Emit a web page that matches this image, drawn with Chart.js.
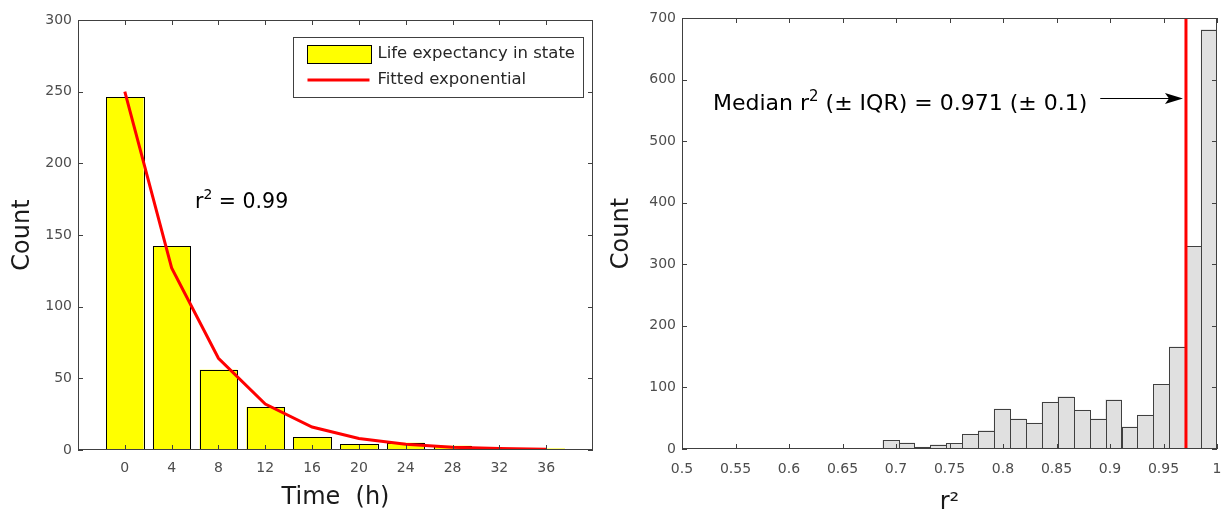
<!DOCTYPE html>
<html>
<head>
<meta charset="utf-8">
<script src="https://cdn.jsdelivr.net/npm/chart.js@4.4.1/dist/chart.umd.min.js"></script>
<style>
  body { margin: 0; background: #fff; }
  #leftBox { position: absolute; left: 0; top: 0; width: 600px; height: 515px; }
  #rightBox { position: absolute; left: 600px; top: 0; width: 623px; height: 515px; }
</style>
</head>
<body>
<div id="leftBox"><canvas id="lifeChart"></canvas></div>
<div id="rightBox"><canvas id="r2Chart"></canvas></div>
<script>
'use strict'

// left panel: life expectancy in state
const hours = [0, 4, 8, 12, 16, 20, 24, 28, 32, 36];
const lifeCounts = [246, 142, 56, 30, 9, 4, 5, 3, 1, 1];
const fitCounts = [250, 127, 64, 32, 16, 8, 4, 2, 1, 0.5];
const countTicksLeft = [0, 50, 100, 150, 200, 250, 300];

// right panel: histogram of r^2
const binCenters = [0.6354, 0.6503, 0.6652, 0.6801, 0.695, 0.7098, 0.7247, 0.7396, 0.7545,
  0.7694, 0.7842, 0.7991, 0.814, 0.8289, 0.8438, 0.8586, 0.8735, 0.8884, 0.9033, 0.9182,
  0.933, 0.9479, 0.9628, 0.9777, 0.9926];
const binCounts = [1, 1, 1, 1, 14, 10, 3, 7, 9, 24, 30, 65, 49, 42, 76, 85, 63, 49, 80, 36,
  55, 105, 166, 329, 681];
const r2Ticks = [0.5, 0.55, 0.6, 0.65, 0.7, 0.75, 0.8, 0.85, 0.9, 0.95, 1];
const countTicksRight = [0, 100, 200, 300, 400, 500, 600, 700];
const medianR2 = 0.971;

const FONT = '"DejaVu Sans", sans-serif';
const tickColor = '#4d4d4d';
const titleColor = '#1a1a1a';
const axisColor = '#404040';

Chart.defaults.font.family = FONT;
Chart.defaults.animation = false;

//box around the axes + matlab style inner ticks
const frameTicks = {
  id: 'frameTicks',
  afterDraw(chart) {
    const {ctx, chartArea: a, scales: {x, y}} = chart;
    const len = 5;
    ctx.save();
    ctx.strokeStyle = axisColor;
    ctx.lineWidth = 1;
    ctx.beginPath();
    x.ticks.forEach(t => {
      const px = Math.round(x.getPixelForValue(t.value)) + 0.5;
      ctx.moveTo(px, a.bottom); ctx.lineTo(px, a.bottom - len);
      ctx.moveTo(px, a.top); ctx.lineTo(px, a.top + len);
    });
    y.ticks.forEach(t => {
      const py = Math.round(y.getPixelForValue(t.value)) + 0.5;
      ctx.moveTo(a.left, py); ctx.lineTo(a.left + len, py);
      ctx.moveTo(a.right, py); ctx.lineTo(a.right - len, py);
    });
    ctx.stroke();
    ctx.strokeRect(Math.round(a.left) + 0.5, Math.round(a.top) + 0.5,
      Math.round(a.width) - 1, Math.round(a.height) - 1);
    ctx.restore();
  }
};

//single pixel edges on bars (adjacent bins share one line)
const barEdges = {
  id: 'barEdges',
  afterDatasetDraw(chart, args, opts) {
    if (args.meta.type !== 'bar') return;
    const ctx = chart.ctx;
    const a = chart.chartArea;
    ctx.save();
    ctx.beginPath();
    ctx.rect(a.left, a.top, a.width, a.height);
    ctx.clip();
    ctx.strokeStyle = opts.color || '#000';
    ctx.lineWidth = 1;
    args.meta.data.forEach(bar => {
      const p = bar.getProps(['x', 'y', 'base', 'width'], true);
      const l = Math.round(p.x - p.width / 2) + 0.5;
      const r = Math.round(p.x + p.width / 2) + 0.5;
      const top = Math.round(p.y) + 0.5;
      const base = Math.round(p.base) + 0.5;
      ctx.strokeRect(l, top, r - l, base - top);
    });
    ctx.restore();
  }
};

function drawSupText(ctx, parts, x, y, size) {
  let cx = x;
  parts.forEach(([txt, sup]) => {
    ctx.font = (sup ? size * 0.68 : size) + 'px ' + FONT;
    ctx.fillText(txt, cx, sup ? y - size * 0.42 : y);
    cx += ctx.measureText(txt).width;
  });
  return cx;
}

//legend box in the top right corner
const boxLegend = {
  id: 'boxLegend',
  afterDraw(chart) {
    const {ctx, chartArea: a} = chart;
    const ds = chart.data.datasets;
    ctx.save();
    ctx.font = '16.5px ' + FONT;
    const textW = Math.max(...ds.map(d => ctx.measureText(d.label).width));
    const w = 84 + textW + 8, h = 60;
    const left = a.right - 10 - w, top = a.top + 17;
    ctx.fillStyle = '#fff';
    ctx.fillRect(left, top, w, h);
    ctx.strokeStyle = axisColor;
    ctx.lineWidth = 1;
    ctx.strokeRect(Math.round(left) + 0.5, Math.round(top) + 0.5, Math.round(w), Math.round(h));
    // bar swatch
    ctx.fillStyle = ds[0].backgroundColor;
    ctx.fillRect(left + 14, top + 8, 64, 18);
    ctx.strokeStyle = '#000';
    ctx.strokeRect(Math.round(left + 14) + 0.5, Math.round(top + 8) + 0.5, 64, 18);
    // line swatch
    ctx.strokeStyle = ds[1].borderColor;
    ctx.lineWidth = 3;
    ctx.beginPath();
    ctx.moveTo(left + 14, top + 43);
    ctx.lineTo(left + 76, top + 43);
    ctx.stroke();
    ctx.fillStyle = '#262626';
    ctx.textBaseline = 'middle';
    ctx.fillText(ds[0].label, left + 84, top + 17);
    ctx.fillText(ds[1].label, left + 84, top + 43);
    ctx.restore();
  }
};

const leftNote = {
  id: 'leftNote',
  afterDatasetsDraw(chart) {
    const {ctx, scales: {x, y}} = chart;
    ctx.save();
    ctx.fillStyle = '#000';
    ctx.textBaseline = 'alphabetic';
    drawSupText(ctx, [['r', false], ['2', true], [' = 0.99', false]],
      x.getPixelForValue(6), y.getPixelForValue(169), 20.5);
    ctx.restore();
  }
};

const rightNote = {
  id: 'rightNote',
  afterDatasetsDraw(chart) {
    const {ctx, scales: {x, y}} = chart;
    ctx.save();
    ctx.fillStyle = '#000';
    ctx.textBaseline = 'alphabetic';
    const end = drawSupText(ctx,
      [['Median r', false], ['2', true], [' (\u00b1 IQR) = 0.971 (\u00b1 0.1)', false]],
      x.getPixelForValue(0.529), y.getPixelForValue(551), 22);
    // arrow pointing to the median line
    const ay = Math.round(y.getPixelForValue(570)) + 0.5;
    const tip = x.getPixelForValue(medianR2) - 3;
    ctx.strokeStyle = '#000';
    ctx.lineWidth = 1.2;
    ctx.beginPath();
    ctx.moveTo(end + 13, ay);
    ctx.lineTo(tip - 10, ay);
    ctx.stroke();
    ctx.beginPath();
    ctx.moveTo(tip, ay);
    ctx.lineTo(tip - 18, ay - 5.5);
    ctx.lineTo(tip - 14, ay);
    ctx.lineTo(tip - 18, ay + 5.5);
    ctx.closePath();
    ctx.fill();
    ctx.restore();
  }
};

function yAxis(ticksList, width, titlePad) {
  return {
    type: 'linear',
    min: ticksList[0],
    max: ticksList[ticksList.length - 1],
    grid: {display: false, drawTicks: false},
    border: {display: false},
    afterBuildTicks: s => { s.ticks = ticksList.map(v => ({value: v})); },
    ticks: {color: tickColor, font: {size: 14}, padding: 6, callback: v => String(v)},
    title: {display: true, text: 'Count', color: titleColor, font: {size: 24}, padding: {top: titlePad, bottom: 0}},
    afterFit: s => { s.width = width; }
  };
}

new Chart(document.getElementById('lifeChart'), {
  type: 'bar',
  data: {
    datasets: [{
      label: 'Life expectancy in state',
      data: hours.map((h, i) => ({x: h, y: lifeCounts[i]})),
      backgroundColor: '#ffff00',
      borderWidth: 0,
      barPercentage: 0.8,
      categoryPercentage: 1,
      order: 1
    }, {
      type: 'line',
      label: 'Fitted exponential',
      data: hours.map((h, i) => ({x: h, y: fitCounts[i]})),
      borderColor: '#ff0000',
      borderWidth: 3,
      pointRadius: 0,
      tension: 0,
      order: 0
    }]
  },
  options: {
    responsive: true,
    maintainAspectRatio: false,
    events: [],
    layout: {padding: {top: 20, right: 7, bottom: 0, left: 0}},
    plugins: {legend: {display: false}, tooltip: {enabled: false}, barEdges: {color: '#000'}},
    scales: {
      x: {
        type: 'linear', min: -4, max: 40, offset: false,
        grid: {display: false, drawTicks: false, offset: false},
        border: {display: false},
        afterBuildTicks: s => { s.ticks = hours.map(v => ({value: v})); },
        ticks: {color: tickColor, font: {size: 14}, padding: 10, maxRotation: 0, autoSkip: false, callback: v => String(v)},
        title: {display: true, text: 'Time  (h)', color: titleColor, font: {size: 24}, padding: {top: 0, bottom: 3}},
        afterFit: s => { s.height = 65; s.paddingLeft = 0; s.paddingRight = 0; }
      },
      y: yAxis(countTicksLeft, 78, 8)
    }
  },
  plugins: [barEdges, leftNote, frameTicks, boxLegend]
});

new Chart(document.getElementById('r2Chart'), {
  type: 'bar',
  data: {
    datasets: [{
      label: 'r2',
      data: binCenters.map((c, i) => ({x: c, y: binCounts[i]})),
      backgroundColor: '#e0e0e0',
      borderWidth: 0,
      barPercentage: 1,
      categoryPercentage: 1,
      order: 1
    }, {
      type: 'line',
      label: 'median',
      data: [{x: medianR2, y: countTicksRight[0]}, {x: medianR2, y: countTicksRight[countTicksRight.length - 1]}],
      borderColor: '#ff0000',
      borderWidth: 3,
      pointRadius: 0,
      order: 0
    }]
  },
  options: {
    responsive: true,
    maintainAspectRatio: false,
    events: [],
    layout: {padding: {top: 18, right: 6, bottom: 0, left: 0}},
    plugins: {legend: {display: false}, tooltip: {enabled: false}, barEdges: {color: '#404040'}},
    scales: {
      x: {
        type: 'linear', min: 0.5, max: 1, offset: false,
        grid: {display: false, drawTicks: false, offset: false},
        border: {display: false},
        afterBuildTicks: s => { s.ticks = r2Ticks.map(v => ({value: v})); },
        ticks: {color: tickColor, font: {size: 14}, padding: 12, maxRotation: 0, autoSkip: false, callback: v => String(v)},
        title: {display: true, text: 'r\u00b2', color: titleColor, font: {size: 24, lineHeight: 1}, padding: {top: 0, bottom: 0}},
        afterFit: s => { s.height = 66; s.paddingLeft = 0; s.paddingRight = 0; }
      },
      y: yAxis(countTicksRight, 82, 7)
    }
  },
  plugins: [barEdges, rightNote, frameTicks]
});
</script>
</body>
</html>
